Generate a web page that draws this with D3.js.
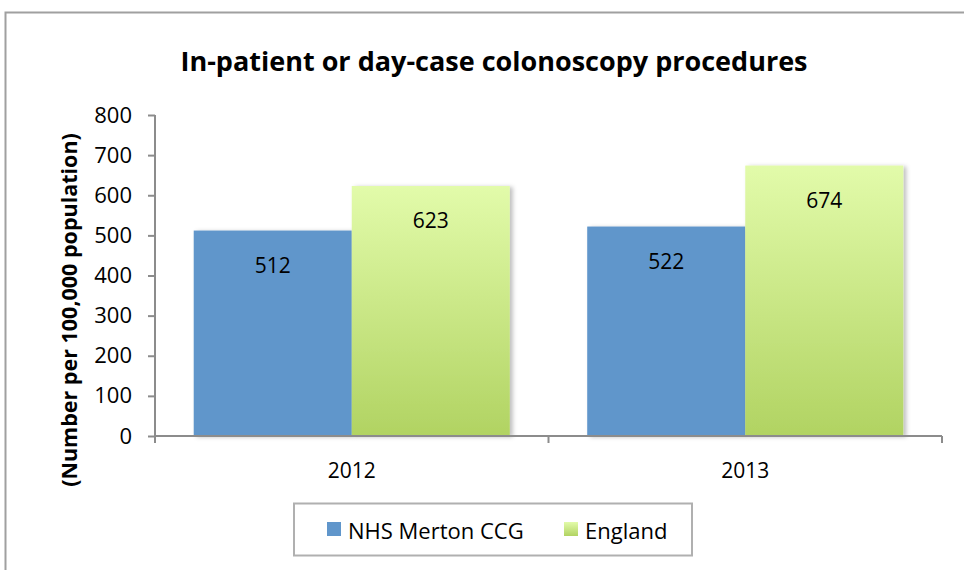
<!DOCTYPE html>
<html>
<head>
<meta charset="utf-8">
<script src="https://cdn.jsdelivr.net/npm/d3@7"></script>
<style>
  body { margin: 0; background: #fff; }
  svg { display: block; font-family: "Open Sans", "Noto Sans", sans-serif; }
</style>
</head>
<body>
<svg id="chart" width="964" height="570"></svg>
<script>
'use strict';

var years = ['2012', '2013'],
    seriesNames = ['NHS Merton CCG', 'England'],
    mertonValues = [512, 522],
    englandValues = [623, 674],
    yTicks = [0, 100, 200, 300, 400, 500, 600, 700, 800];

var svg = d3.select('#chart');

var plot = { left: 155, right: 942, top: 115, bottom: 436 };

var defs = svg.append('defs');
var grad = defs.append('linearGradient')
    .attr('id', 'greenGrad')
    .attr('x1', 0).attr('y1', 0).attr('x2', 0).attr('y2', 1);
grad.append('stop').attr('offset', '0%').attr('stop-color', '#e2fbaa');
grad.append('stop').attr('offset', '100%').attr('stop-color', '#b1d362');

var shadow = defs.append('filter')
    .attr('id', 'shadow')
    .attr('x', '-10%').attr('y', '-10%').attr('width', '130%').attr('height', '120%');
shadow.append('feDropShadow')
    .attr('dx', 3).attr('dy', 1).attr('stdDeviation', 2)
    .attr('flood-color', '#000').attr('flood-opacity', 0.25);

// outer frame
svg.append('rect')
    .attr('x', 5.5).attr('y', 12.5)
    .attr('width', 1000).attr('height', 600)
    .attr('fill', 'none')
    .attr('stroke', '#a0a0a0')
    .attr('stroke-width', 2);

var x0 = d3.scaleBand()
    .domain(years)
    .range([plot.left, plot.right]);

var x1 = d3.scaleBand()
    .domain(seriesNames)
    .range([0, x0.bandwidth()])
    .paddingInner(0)
    .paddingOuter(0.245);

var y = d3.scaleLinear()
    .domain([0, 800])
    .range([plot.bottom, plot.top]);

var colors = { 'NHS Merton CCG': '#6096cb', 'England': 'url(#greenGrad)' };

var rows = years.map(function(yr, i) {
    return [
        { year: yr, name: seriesNames[0], value: mertonValues[i] },
        { year: yr, name: seriesNames[1], value: englandValues[i] }
    ];
});

// bars
var groups = svg.append('g').selectAll('g.year')
    .data(rows)
    .enter().append('g')
        .attr('class', 'year')
        .attr('transform', function(d) { return 'translate(' + x0(d[0].year) + ',0)'; });

groups.selectAll('rect')
    .data(function(d) { return d; })
    .enter().append('rect')
        .attr('x', function(d) { return x1(d.name); })
        .attr('y', function(d) { return y(d.value); })
        .attr('width', x1.bandwidth())
        .attr('height', function(d) { return y(0) - y(d.value); })
        .attr('fill', function(d) { return colors[d.name]; })
        .attr('filter', 'url(#shadow)');

groups.selectAll('text')
    .data(function(d) { return d; })
    .enter().append('text')
        .attr('x', function(d) { return x1(d.name) + x1.bandwidth() / 2; })
        .attr('y', function(d) { return y(d.value) + 42; })
        .attr('text-anchor', 'middle')
        .attr('font-size', 21)
        .attr('fill', '#000')
        .text(function(d) { return d.value; });

// y axis
var yAxis = d3.axisLeft(y).tickValues(yTicks).tickSize(7).tickPadding(16);
var gy = svg.append('g')
    .attr('transform', 'translate(' + plot.left + ',0)')
    .call(yAxis);
gy.select('.domain').attr('stroke', '#8c8c8c').attr('stroke-width', 2)
    .attr('d', 'M0,' + plot.top + 'V' + plot.bottom);
gy.selectAll('.tick line').attr('stroke', '#8c8c8c').attr('stroke-width', 2);
gy.selectAll('.tick text').attr('font-size', 22).attr('fill', '#000')
    .attr('font-family', '"Open Sans", sans-serif');

// x axis
var gx = svg.append('g')
    .attr('transform', 'translate(0,' + plot.bottom + ')');
gx.append('path')
    .attr('d', 'M' + plot.left + ',0H' + plot.right)
    .attr('stroke', '#8c8c8c').attr('stroke-width', 2).attr('fill', 'none');
var xTickPos = [plot.left].concat(years.map(function(yr) { return x0(yr) + x0.bandwidth(); }));
gx.selectAll('line.xtick')
    .data(xTickPos)
    .enter().append('line')
        .attr('class', 'xtick')
        .attr('x1', function(d) { return d; }).attr('x2', function(d) { return d; })
        .attr('y1', 0).attr('y2', 7)
        .attr('stroke', '#8c8c8c').attr('stroke-width', 2);
gx.selectAll('text')
    .data(years)
    .enter().append('text')
        .attr('x', function(d) { return x0(d) + x0.bandwidth() / 2; })
        .attr('y', 42)
        .attr('text-anchor', 'middle')
        .attr('font-size', 21)
        .text(function(d) { return d; });

// title
svg.append('text')
    .attr('x', 494).attr('y', 71)
    .attr('text-anchor', 'middle')
    .attr('font-size', 27)
    .attr('font-weight', 'bold')
    .text('In-patient or day-case colonoscopy procedures');

// y axis title
svg.append('text')
    .attr('transform', 'translate(77,310) rotate(-90)')
    .attr('text-anchor', 'middle')
    .attr('font-size', 21.5)
    .attr('font-weight', 'bold')
    .text('(Number per 100,000 population)');

// legend
var legend = svg.append('g');
legend.append('rect')
    .attr('x', 294).attr('y', 503.5)
    .attr('width', 398).attr('height', 52)
    .attr('fill', '#fff')
    .attr('stroke', '#b0b0b0').attr('stroke-width', 2);

var legendX = [327, 564];
var items = legend.selectAll('g.item')
    .data(seriesNames)
    .enter().append('g')
        .attr('class', 'item')
        .attr('transform', function(d, i) { return 'translate(' + legendX[i] + ',522)'; });
items.append('rect')
    .attr('width', 14).attr('height', 14)
    .attr('fill', function(d) { return colors[d]; });
items.append('text')
    .attr('x', 21).attr('y', 17)
    .attr('font-size', 22)
    .text(function(d) { return d; });
</script>
</body>
</html>
